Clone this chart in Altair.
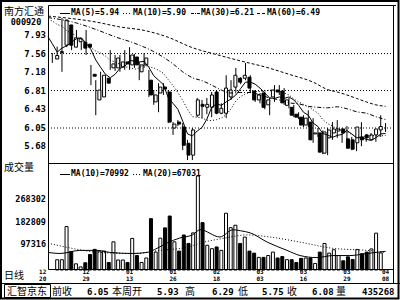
import altair as alt
import pandas as pd

# ---------------- data ----------------
opens = [7.45, 7.58, 7.73, 8.14, 7.69, 7.80, 7.79, 7.75, 7.14, 6.62,
         6.68, 7.06, 7.27, 7.27, 7.29, 7.39, 7.33, 7.49, 7.19, 7.33,
         7.02, 6.58, 6.76, 6.88, 6.78, 6.05, 6.17, 6.07, 5.74, 5.50,
         6.31, 6.53, 6.47, 6.47, 6.78, 6.35, 6.35, 6.68, 6.88, 7.06,
         7.06, 7.08, 6.80, 6.62, 6.76, 6.52, 6.68, 6.82, 6.80, 6.51,
         6.47, 6.33, 6.27, 6.11, 6.17, 5.93, 5.95, 5.54, 5.85, 5.95,
         5.99, 6.03, 5.83, 5.81, 5.75, 5.87, 5.91, 5.81, 5.91, 6.01]
closes = [7.52, 7.60, 8.24, 7.73, 7.88, 7.86, 7.67, 7.69, 7.10, 6.82,
          7.12, 6.96, 7.35, 7.47, 7.39, 7.35, 7.53, 7.33, 7.33, 7.47,
          6.72, 6.72, 6.88, 6.84, 6.17, 6.13, 6.13, 5.70, 5.50, 6.01,
          6.62, 6.49, 6.53, 6.72, 6.35, 6.45, 6.86, 6.82, 7.12, 6.98,
          7.12, 6.86, 6.62, 6.72, 6.47, 6.62, 6.82, 6.78, 6.56, 6.62,
          6.31, 6.27, 6.11, 6.25, 5.81, 5.95, 5.56, 5.97, 6.01, 6.03,
          6.03, 5.95, 5.64, 5.62, 6.07, 5.81, 5.85, 5.91, 6.03, 6.08]
highs = [7.57, 7.70, 8.28, 8.18, 7.94, 8.04, 7.88, 8.04, 7.33, 7.02,
         7.19, 7.12, 7.63, 7.53, 7.53, 7.63, 7.69, 7.55, 7.39, 7.57,
         7.23, 6.82, 6.96, 6.96, 6.82, 6.17, 6.21, 6.15, 5.81, 6.05,
         6.66, 6.62, 6.66, 6.78, 6.82, 6.55, 7.12, 7.02, 7.27, 7.08,
         7.37, 7.12, 6.82, 6.76, 6.78, 6.66, 6.92, 6.92, 6.86, 6.66,
         6.52, 6.37, 6.31, 6.41, 6.25, 6.05, 6.00, 6.05, 6.17, 6.21,
         6.05, 6.09, 5.87, 5.85, 6.17, 5.93, 5.95, 5.99, 6.31, 6.15]
lows = [7.37, 7.50, 7.19, 7.69, 7.63, 7.69, 7.63, 7.53, 6.92, 6.31,
        6.62, 6.92, 7.23, 7.21, 7.19, 7.23, 7.23, 7.27, 7.02, 7.27,
        6.68, 6.52, 6.37, 6.72, 6.15, 5.91, 6.09, 5.60, 5.40, 5.40,
        6.27, 6.25, 6.33, 6.27, 6.33, 6.33, 6.25, 6.62, 6.78, 6.94,
        7.02, 6.76, 6.58, 6.55, 6.43, 6.31, 6.58, 6.72, 6.52, 6.45,
        6.27, 6.23, 6.07, 6.07, 5.75, 5.87, 5.52, 5.50, 5.81, 5.85,
        5.75, 5.81, 5.60, 5.58, 5.68, 5.77, 5.81, 5.77, 5.87, 5.97]
volumes = [39000, 39000, 165000, 70600, 23500, 11800, 27500, 58800, 78400, 71800,
           71800, 28600, 107000, 38000, 38000, 28600, 120000, 55000, 28600, 45700,
           195000, 68000, 121000, 160000, 205000, 107000, 71800, 133000, 100800, 141000,
           357000, 180000, 94000, 81000, 87500, 74500, 215700, 160800, 170000, 100800,
           125000, 71800, 64000, 48000, 48000, 55000, 68000, 45700, 51000, 39200,
           39000, 28600, 44000, 45700, 45700, 24800, 68000, 100800, 64000, 77000,
           55000, 35000, 50000, 40000, 78000, 62000, 68000, 80000, 140000, 65000]

ma5 = [7.90, 7.76, 7.59, 7.67, 7.72, 7.79, 7.86, 7.88, 7.77, 7.64, 7.43,
       7.28, 7.14, 7.07, 7.14, 7.26, 7.30, 7.42, 7.41, 7.39, 7.40,
       7.28, 7.11, 7.02, 6.93, 6.67, 6.55, 6.43, 6.19, 5.93, 5.89,
       5.99, 6.06, 6.23, 6.47, 6.54, 6.51, 6.58, 6.64, 6.72, 6.85,
       6.98, 6.98, 6.94, 6.86, 6.76, 6.66, 6.65, 6.68, 6.65, 6.68,
       6.62, 6.51, 6.37, 6.31, 6.15, 6.08, 5.94, 5.91, 5.86, 5.90,
       5.92, 6.00, 5.93, 5.85, 5.86, 5.82, 5.80, 5.85, 5.93, 5.94]
ma10 = [8.26, 8.22, 8.15, 8.12, 8.02, 7.97, 7.92, 7.85, 7.76, 7.68, 7.61,
        7.57, 7.51, 7.42, 7.39, 7.34, 7.29, 7.28, 7.24, 7.27, 7.33,
        7.29, 7.27, 7.22, 7.16, 7.03, 6.91, 6.77, 6.61, 6.43, 6.28,
        6.27, 6.25, 6.21, 6.20, 6.22, 6.25, 6.32, 6.44, 6.60, 6.69,
        6.74, 6.78, 6.79, 6.79, 6.80, 6.82, 6.82, 6.81, 6.76, 6.72,
        6.64, 6.58, 6.53, 6.48, 6.42, 6.35, 6.22, 6.14, 6.09, 6.03,
        6.00, 5.97, 5.92, 5.86, 5.88, 5.87, 5.90, 5.89, 5.89, 5.90]
ma30_pos = [-0.89, 5, 9, 13, 17, 21, 25, 27, 29, 31, 33, 35, 37, 39, 41,
            43, 45, 47, 49, 51, 53, 55, 57, 59, 61, 63, 65, 67, 69]
ma30 = [8.29, 8.18, 8.05, 7.90, 7.77, 7.60, 7.35, 7.19, 7.07, 7.01, 6.92,
        6.82, 6.76, 6.77, 6.77, 6.72, 6.66, 6.62, 6.56, 6.54, 6.49, 6.47,
        6.46, 6.48, 6.44, 6.38, 6.35, 6.28, 6.22]
ma60_pos = [-0.89, 9, 14, 19, 24, 29, 34, 39, 44, 49, 54, 57, 59, 61, 63, 65, 67, 69]
ma60 = [8.32, 8.20, 8.10, 8.03, 7.89, 7.68, 7.54, 7.41, 7.29, 7.14, 6.98,
        6.83, 6.78, 6.72, 6.65, 6.58, 6.52, 6.49]

vma10_pos = [-0.89, 1.6, 5.7, 9.2, 12, 16.7, 19.6, 21.7, 23.7, 26.4, 29, 30.6,
             34.7, 37.4, 39, 41, 44.5, 48.6, 51.3, 54.8, 58.1, 61.6, 65.2, 69]
vma10 = [66700, 62700, 74500, 74500, 66700, 62700, 66700, 82400, 102000, 121600,
         133300, 153000, 125500, 153000, 149000, 141000, 105900, 74500, 54900,
         47100, 54900, 54900, 62700, 70992]
vma20_pos = [-0.89, 3, 9.9, 16.7, 22.3, 27.9, 30.6, 35.8, 40.3, 45, 51.3, 58.1, 65.2, 69]
vma20 = [102000, 86300, 66700, 62700, 74500, 86300, 102000, 121600, 133300,
         125500, 105900, 82400, 74500, 67031]

price_ticks = [7.93, 7.56, 7.18, 6.81, 6.43, 6.05, 5.68]
grid_prices = [7.56, 6.81, 6.05]
vol_ticks = [268302, 182809, 97316]
date_pos = [-2, 7, 16, 25, 34, 43, 52, 61, 69]
date_month = ["12", "12", "01", "01", "02", "03", "03", "03", "04"]
date_day = ["20", "29", "13", "26", "18", "03", "16", "29", "08"]

stock_name = "南方汇通"
stock_code = "000920"
price_legend = ["MA(5)=5.94", "MA(10)=5.90", "MA(30)=6.21", "MA(60)=6.49"]
vol_legend = ["MA(10)=70992", "MA(20)=67031"]
status_words = ["汇智京东", "前收", "本周开", "高", "低", "收", "量"]
status_numbers = ["6.05", "5.93", "6.29", "5.75", "6.08", "435268"]

# ---------------- layout / style ----------------
MONO = "DejaVu Sans Mono"
CJK = "Noto Sans CJK SC"
X = alt.Scale(domain=[-0.89, 70.54], range=[48, 393], nice=False, zero=False)
PY = alt.Scale(domain=[5.32, 8.545], range=[164, 5], nice=False, zero=False)
VY = alt.Scale(domain=[0, 402700], range=[270, 164], nice=False, zero=False)

cdf = pd.DataFrame({"i": list(range(len(closes))), "open": opens, "close": closes,
                    "high": highs, "low": lows, "vol": volumes})
up_fill = alt.condition("datum.close >= datum.open", alt.value("white"), alt.value("black"))
xi = alt.X("i:Q", scale=X, axis=None)

layers = []

# grid lines
layers.append(alt.Chart(pd.DataFrame({"p": grid_prices})).mark_rule(
    color="black", strokeWidth=1, strokeDash=[1, 2]).encode(
    y=alt.Y("p:Q", scale=PY, axis=None), x=alt.value(48), x2=alt.value(393)))

# candles
layers.append(alt.Chart(cdf).mark_rule(color="black", strokeWidth=1).encode(
    x=xi, y=alt.Y("low:Q", scale=PY, axis=None), y2="high:Q"))
layers.append(alt.Chart(cdf).mark_bar(size=3, stroke="black", strokeWidth=1).encode(
    x=xi, y=alt.Y("open:Q", scale=PY, axis=None), y2="close:Q", fill=up_fill))

# volume bars
layers.append(alt.Chart(cdf).mark_bar(size=3, stroke="black", strokeWidth=1).encode(
    x=xi, y=alt.Y("vol:Q", scale=VY, axis=None), fill=up_fill))


def line_layer(pos, vals, yscale, dash=None, interp="linear"):
    df = pd.DataFrame({"i": pos, "v": vals})
    kw = dict(color="black", strokeWidth=1, interpolate=interp)
    if dash:
        kw["strokeDash"] = dash
    return alt.Chart(df).mark_line(**kw).encode(
        x=alt.X("i:Q", scale=X, axis=None), y=alt.Y("v:Q", scale=yscale, axis=None))


daily_pos = [-0.89] + list(range(len(closes)))
layers.append(line_layer(ma60_pos, ma60, PY, [3, 2], "monotone"))
layers.append(line_layer(ma30_pos, ma30, PY, [4, 2, 1, 2], "monotone"))
layers.append(line_layer(daily_pos, ma10, PY, [1, 2]))
layers.append(line_layer(daily_pos, ma5, PY))
layers.append(line_layer(vma20_pos, vma20, VY, [1, 2], "monotone"))
layers.append(line_layer(vma10_pos, vma10, VY, None, "monotone"))

# frame lines
segs = pd.DataFrame([
    (48.5, 5.5, 396, 5.5), (48.5, 5.5, 48.5, 269.5), (393.5, 5.5, 393.5, 283.5),
    (48.5, 163.5, 393.5, 163.5), (48.5, 269.5, 393.5, 269.5), (0, 283.5, 400, 283.5),
], columns=["x1", "y1", "x2", "y2"])
layers.append(alt.Chart(segs).mark_rule(color="black", strokeWidth=1).encode(
    x=alt.X("x1:Q", scale=None), x2="x2:Q", y=alt.Y("y1:Q", scale=None), y2="y2:Q"))
boxes = pd.DataFrame([(1, 1, 398.5, 298.5, 2), (4.5, 284.5, 50.5, 297.5, 1)],
                     columns=["x1", "y1", "x2", "y2", "w"])
for _, b in boxes.iterrows():
    layers.append(alt.Chart(pd.DataFrame([b])).mark_rect(
        fillOpacity=0, stroke="black", strokeWidth=float(b["w"])).encode(
        x=alt.X("x1:Q", scale=None), x2="x2:Q", y=alt.Y("y1:Q", scale=None), y2="y2:Q"))

# legend line samples
for x1, x2, y, dash in [(60, 70, 13.5, None), (123, 132, 13.5, [1, 2]), (191, 200, 13.5, [3, 1, 1, 1]),
                        (257, 266, 13.5, [3, 2]), (60, 70, 174.5, None), (133, 142, 174.5, [1, 2])]:
    kw = dict(color="black", strokeWidth=1)
    if dash:
        kw["strokeDash"] = dash
    layers.append(alt.Chart(pd.DataFrame({"x1": [x1], "x2": [x2], "y": [y]})).mark_rule(**kw).encode(
        x=alt.X("x1:Q", scale=None), x2="x2:Q", y=alt.Y("y:Q", scale=None)))


def free_text(items, font, size, weight="normal", align="left"):
    df = pd.DataFrame(items, columns=["t", "px", "py"])
    return alt.Chart(df).mark_text(font=font, fontSize=size, fontWeight=weight, align=align,
                                   baseline="middle", color="black").encode(
        x=alt.X("px:Q", scale=None), y=alt.Y("py:Q", scale=None), text="t:N")


# CJK words
layers.append(free_text([(stock_name, 4, 12), ("成交量", 4, 168), ("日线", 4, 276)], CJK, 10))
sw_x = [7, 52, 112, 185, 238, 287, 336]
layers.append(free_text([(w, x, 291.5) for w, x in zip(status_words, sw_x)], CJK, 10))
# numbers
sn_x = [87, 157, 212, 262, 312, 362]
layers.append(free_text([(n, x, 291.5) for n, x in zip(status_numbers, sn_x)], MONO, 9, "bold"))
layers.append(free_text([(stock_code, 26, 21.5)], MONO, 8.5, "bold", "center"))
pl_x = [71, 133, 201, 267]
layers.append(free_text([(t, x, 13) for t, x in zip(price_legend, pl_x)], MONO, 8, "bold"))
vl_x = [71, 143]
layers.append(free_text([(t, x, 174) for t, x in zip(vol_legend, vl_x)], MONO, 8, "bold"))

# axis tick labels through the scales
layers.append(alt.Chart(pd.DataFrame({"p": price_ticks, "t": [f"{v:.2f}" for v in price_ticks]})).mark_text(
    font=MONO, fontSize=9, fontWeight="bold", align="right", baseline="middle", color="black").encode(
    y=alt.Y("p:Q", scale=PY, axis=None), x=alt.value(46), text="t:N"))
layers.append(alt.Chart(pd.DataFrame({"v": vol_ticks, "t": [str(v) for v in vol_ticks]})).mark_text(
    font=MONO, fontSize=8.5, fontWeight="bold", align="right", baseline="middle", color="black").encode(
    y=alt.Y("v:Q", scale=VY, axis=None), x=alt.value(46), text="t:N"))
ddf = pd.DataFrame({"i": date_pos, "m": date_month, "d": date_day})
layers.append(alt.Chart(ddf).mark_text(font=MONO, fontSize=6, fontWeight="bold", baseline="middle",
                                       color="black").encode(x=alt.X("i:Q", scale=X, axis=None),
                                                             y=alt.value(272), text="m:N"))
layers.append(alt.Chart(ddf).mark_text(font=MONO, fontSize=6, fontWeight="bold", baseline="middle",
                                       color="black").encode(x=alt.X("i:Q", scale=X, axis=None),
                                                             y=alt.value(279), text="d:N"))

chart = alt.layer(*layers).resolve_scale(x="independent", y="independent").properties(
    width=400, height=300, padding=0, autosize=alt.AutoSizeParams(type="none"), background="white"
).configure_view(strokeWidth=0)

chart.save("out.html", embed_options={"renderer": "svg", "actions": False})
